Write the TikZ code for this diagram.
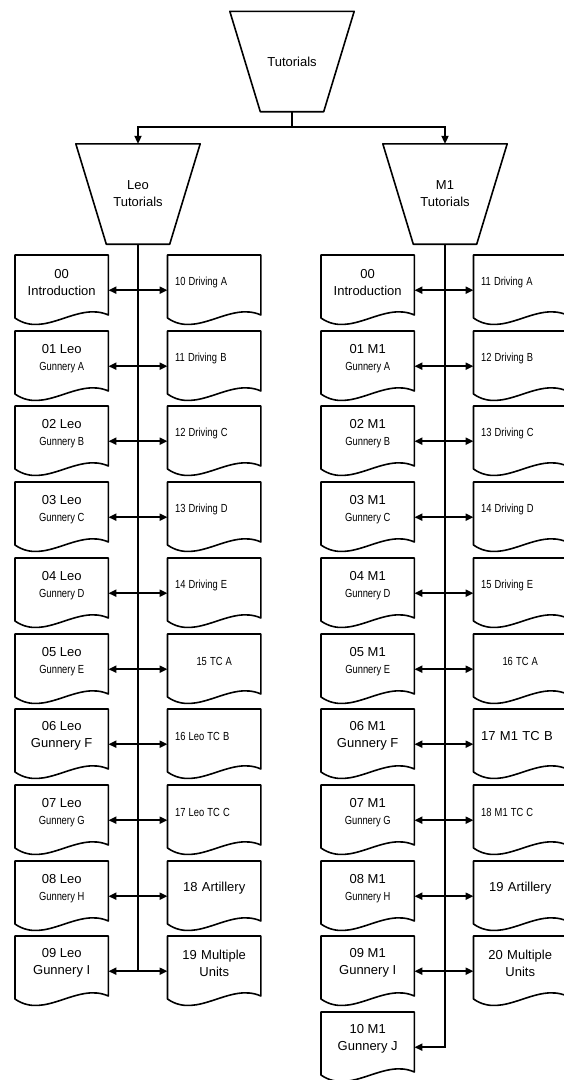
\documentclass[tikz,border=0pt]{standalone}
\usepackage{fontspec}
\usepackage{graphicx}
\setmainfont{Liberation Sans}
\usetikzlibrary{arrows.meta,calc}
\newcommand\cmp[1]{\scalebox{0.72}[0.9]{#1}}
\tikzset{
  x=1pt, y=-1pt,
  docline/.style={line width=1.6pt, line join=round},
  conn/.style={line width=2pt},
  tip/.style={-{Triangle[length=8pt,width=7pt]}},
  dbl/.style={line width=2pt, {Triangle[length=8pt,width=7pt]}-{Triangle[length=8pt,width=7pt]}},
  doc/.style={minimum width=93pt, minimum height=54pt, inner sep=0pt, anchor=north west,
    font=\fontsize{13}{17}\selectfont, align=center},
  rdoc/.style={doc, text width=78pt, align=left},
  trapbox/.style={minimum width=124pt, minimum height=100pt, inner sep=0pt,
    font=\fontsize{13}{17}\selectfont, align=center}
}
\newcommand\drawdoc[1]{%
  \draw[docline] (#1.north west) -- (#1.north east) -- ($(#1.north east)+(0,60)$)
    .. controls ($(#1.north west)+(62,46)$) and ($(#1.north west)+(30,84)$) ..
    ($(#1.north west)+(0,63)$) -- cycle;}
\newcommand\drawtrap[1]{%
  \draw[docline] (#1.north west) -- (#1.north east) -- ($(#1.south east)+(-30.5,0)$)
    -- ($(#1.south west)+(30.5,0)$) -- cycle;}
% #1 prefix, #2 index, #3 left x, #4 top y, #5 left text, #6 right text, #7 right options
\newcommand\docrow[7]{%
  \node[doc] (#1L#2) at (#3,#4) {#5};
  \node[rdoc,#7] (#1R#2) at (#3+152.5,#4) {#6};
  \drawdoc{#1L#2}
  \drawdoc{#1R#2}
  \draw[dbl] ([yshift=-8pt]#1L#2.east) -- ([yshift=-8pt]#1R#2.west);}
\begin{document}
\begin{tikzpicture}
\useasboundingbox (0,0) rectangle (563,1080);
% top level
\node[trapbox] (tut) at (292,61.5) {Tutorials};
\drawtrap{tut}
\node[trapbox] (leo) at (138,194) {Leo\\Tutorials};
\drawtrap{leo}
\node[trapbox] (mone) at (445,194) {M1\\Tutorials};
\drawtrap{mone}
\coordinate (j) at (292,127);
\draw[conn] (tut.south) -- (j);
\draw[conn,tip] (j) -| (leo.north);
\draw[conn,tip] (j) -| (mone.north);
% Leo column
\docrow{l}{0}{15}{255}{00\\Introduction}{\cmp{10 Driving A}}{}
\docrow{l}{1}{15}{331}{01 Leo\\\cmp{Gunnery A}}{\cmp{11 Driving B}}{}
\docrow{l}{2}{15}{406}{02 Leo\\\cmp{Gunnery B}}{\cmp{12 Driving C}}{}
\docrow{l}{3}{15}{482}{03 Leo\\\cmp{Gunnery C}}{\cmp{13 Driving D}}{}
\docrow{l}{4}{15}{558}{04 Leo\\\cmp{Gunnery D}}{\cmp{14 Driving E}}{}
\docrow{l}{5}{15}{634}{05 Leo\\\cmp{Gunnery E}}{\cmp{15 TC A}}{align=center}
\docrow{l}{6}{15}{709}{06 Leo\\Gunnery F}{\cmp{16 Leo TC B}}{}
\docrow{l}{7}{15}{785}{07 Leo\\\cmp{Gunnery G}}{\cmp{17 Leo TC C}}{}
\docrow{l}{8}{15}{861}{08 Leo\\\cmp{Gunnery H}}{18 Artillery}{align=center}
\docrow{l}{9}{15}{936}{09 Leo\\Gunnery I}{19 Multiple\\Units}{align=center}
\coordinate (lend) at ([yshift=-8pt]lL9.east);
\draw[conn] (leo.south) -- (leo.south |- lend);
% M1 column
\docrow{m}{0}{321}{255}{00\\Introduction}{\cmp{11 Driving A}}{}
\docrow{m}{1}{321}{331}{01 M1\\\cmp{Gunnery A}}{\cmp{12 Driving B}}{}
\docrow{m}{2}{321}{406}{02 M1\\\cmp{Gunnery B}}{\cmp{13 Driving C}}{}
\docrow{m}{3}{321}{482}{03 M1\\\cmp{Gunnery C}}{\cmp{14 Driving D}}{}
\docrow{m}{4}{321}{558}{04 M1\\\cmp{Gunnery D}}{\cmp{15 Driving E}}{}
\docrow{m}{5}{321}{634}{05 M1\\\cmp{Gunnery E}}{\cmp{16 TC A}}{align=center}
\docrow{m}{6}{321}{709}{06 M1\\Gunnery F}{17 M1 TC B}{}
\docrow{m}{7}{321}{785}{07 M1\\\cmp{Gunnery G}}{\cmp{18 M1 TC C}}{}
\docrow{m}{8}{321}{861}{08 M1\\\cmp{Gunnery H}}{19 Artillery}{align=center}
\docrow{m}{9}{321}{936}{09 M1\\Gunnery I}{20 Multiple\\Units}{align=center}
\node[doc] (mL10) at (321,1012) {10 M1\\Gunnery J};
\drawdoc{mL10}
\coordinate (mend) at ([yshift=-8pt]mL10.east);
\draw[conn,tip] (mone.south) -- (mone.south |- mend) -- (mend);
\end{tikzpicture}
\end{document}
